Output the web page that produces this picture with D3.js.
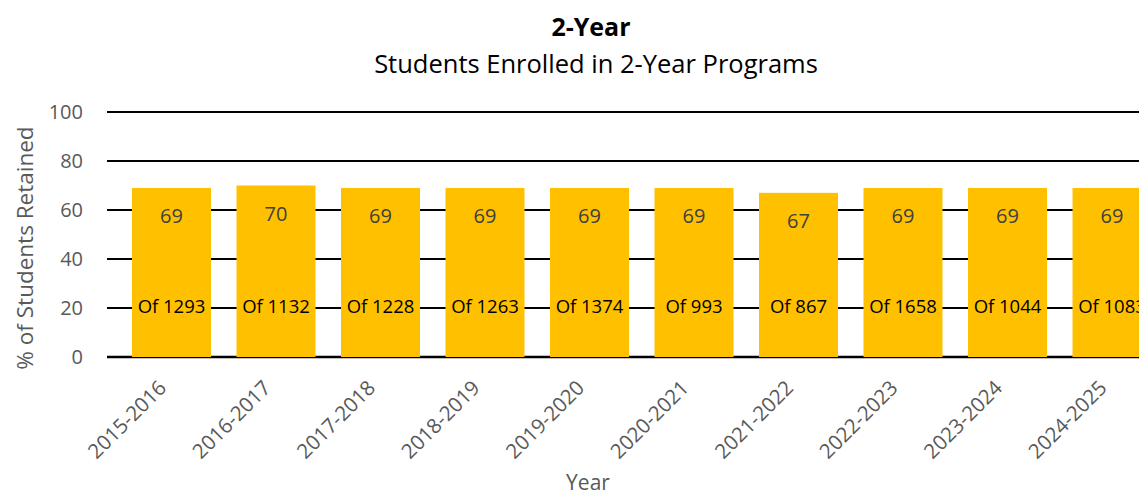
<!DOCTYPE html>
<html>
<head>
<meta charset="utf-8">
<script src="https://cdn.jsdelivr.net/npm/d3@7"></script>
<style>
  body { margin: 0; background: #fff; }
  svg { display: block; font-family: "Open Sans", sans-serif; }
</style>
</head>
<body>
<div id="chart"></div>
<script>
const years = ['2015-2016', '2016-2017', '2017-2018', '2018-2019', '2019-2020',
  '2020-2021', '2021-2022', '2022-2023', '2023-2024', '2024-2025'];
const retained = [69, 70, 69, 69, 69, 69, 67, 69, 69, 69];
const enrolled = [1293, 1132, 1228, 1263, 1374, 993, 867, 1658, 1044, 1083];
const yTicks = [0, 20, 40, 60, 80, 100];

const width = 1139;
const height = 497;
const plot = { left: 107, right: 1139, top: 112, bottom: 357 };

const svg = d3.select('#chart')
  .append('svg')
  .attr('width', width)
  .attr('height', height)
  .attr('viewBox', [0, 0, width, height]);

const x = d3.scaleBand()
  .domain(years)
  .range([119.25, 1164.25])
  .paddingInner(0.244)
  .paddingOuter(0.122);

const y = d3.scaleLinear()
  .domain([0, 100])
  .range([plot.bottom, plot.top]);

// gridlines
svg.append('g')
  .selectAll('line')
  .data(yTicks)
  .enter()
  .append('line')
  .attr('x1', plot.left)
  .attr('x2', plot.right)
  .attr('y1', d => y(d))
  .attr('y2', d => y(d))
  .attr('stroke', '#000')
  .attr('stroke-width', d => d === 0 ? 2.5 : 2);

// y tick labels
svg.append('g')
  .selectAll('text')
  .data(yTicks)
  .enter()
  .append('text')
  .attr('x', 83)
  .attr('y', d => y(d))
  .attr('dy', '0.35em')
  .attr('text-anchor', 'end')
  .attr('fill', '#595959')
  .style('font-size', '20px')
  .text(d => d);

// bars
svg.append('g')
  .selectAll('rect')
  .data(years)
  .enter()
  .append('rect')
  .attr('x', d => x(d))
  .attr('width', x.bandwidth())
  .attr('y', (d, i) => y(retained[i]))
  .attr('height', (d, i) => y(0) - y(retained[i]))
  .attr('fill', '#FFC000');

// value labels
svg.append('g')
  .selectAll('text')
  .data(years)
  .enter()
  .append('text')
  .attr('x', d => x(d) + x.bandwidth() / 2)
  .attr('y', (d, i) => y(retained[i]) + 28)
  .attr('dy', '0.35em')
  .attr('text-anchor', 'middle')
  .attr('fill', '#404040')
  .style('font-size', '20px')
  .text((d, i) => retained[i]);

// "Of N" labels
svg.append('g')
  .selectAll('text')
  .data(years)
  .enter()
  .append('text')
  .attr('x', d => x(d) + x.bandwidth() / 2)
  .attr('y', y(20.5))
  .attr('dy', '0.35em')
  .attr('text-anchor', 'middle')
  .attr('fill', '#000')
  .style('font-size', '18.5px')
  .text((d, i) => 'Of ' + enrolled[i]);

// x tick labels
svg.append('g')
  .selectAll('text')
  .data(years)
  .enter()
  .append('text')
  .attr('transform', d => `translate(${x(d) + x.bandwidth() / 2 - 9}, 384) rotate(-45)`)
  .attr('text-anchor', 'end')
  .attr('dy', '0.35em')
  .attr('fill', '#595959')
  .style('font-size', '20.5px')
  .text(d => d);

// titles
svg.append('text')
  .attr('x', 591)
  .attr('y', 27)
  .attr('dy', '0.35em')
  .attr('text-anchor', 'middle')
  .attr('fill', '#000')
  .style('font-size', '25px')
  .style('font-weight', 'bold')
  .text('2-Year');

svg.append('text')
  .attr('x', 596)
  .attr('y', 64)
  .attr('dy', '0.35em')
  .attr('text-anchor', 'middle')
  .attr('fill', '#000')
  .style('font-size', '25.5px')
  .text('Students Enrolled in 2-Year Programs');

svg.append('text')
  .attr('transform', 'translate(25, 248) rotate(-90)')
  .attr('dy', '0.35em')
  .attr('text-anchor', 'middle')
  .attr('fill', '#595959')
  .style('font-size', '22.5px')
  .text('% of Students Retained');

svg.append('text')
  .attr('x', 588)
  .attr('y', 483)
  .attr('dy', '0.35em')
  .attr('text-anchor', 'middle')
  .attr('fill', '#595959')
  .style('font-size', '21px')
  .text('Year');
</script>
</body>
</html>
